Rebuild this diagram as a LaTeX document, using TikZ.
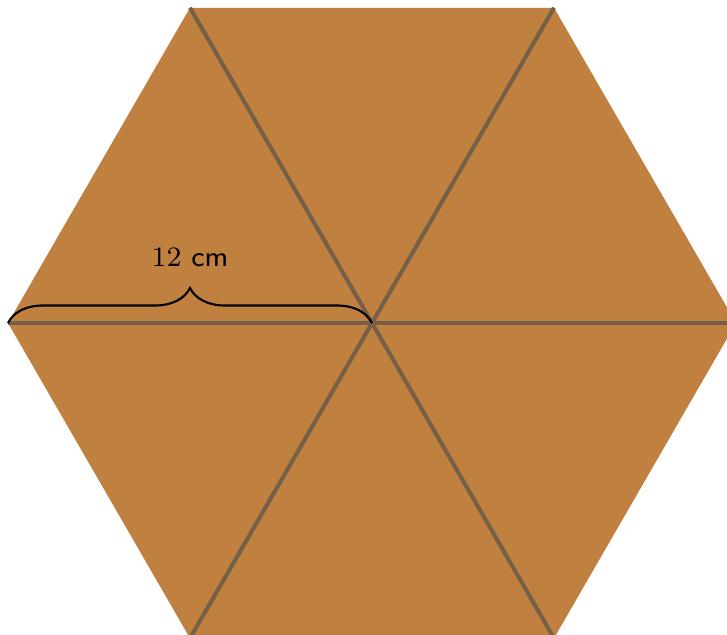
\documentclass[tikz,border=0pt]{standalone}
\usepackage{tikz}
\usetikzlibrary{decorations.pathreplacing,calc}
\definecolor{hexfill}{RGB}{192,128,64}
\definecolor{spoke}{RGB}{117,95,70}

\begin{document}
\begin{tikzpicture}[
		every node/.style={font=\fontsize{8}{10}\selectfont},
		spokeline/.style={draw=spoke, line width=1.15pt},
		measure/.style={decorate, decoration={brace, amplitude=0.35cm}, line width=0.6pt}
	]
		\useasboundingbox (0,0) rectangle (7.27,6.35);
		\coordinate (O) at (3.72,3.12);
		\foreach \i in {0,...,5}
			\coordinate (v\i) at ($(O)+(\i*60:3.64)$);
		\fill[hexfill] (v0) -- (v1) -- (v2) -- (v3) -- (v4) -- (v5) -- cycle;
		\foreach \i in {0,...,5}
			\draw[spokeline] (O) -- (v\i);
		\draw[measure] (v3) -- (O);
		\node (side) at ($(v3)!0.5!(O)+(0,0.65)$) {$12$ \textsf{cm}};
	\end{tikzpicture}
\end{document}
